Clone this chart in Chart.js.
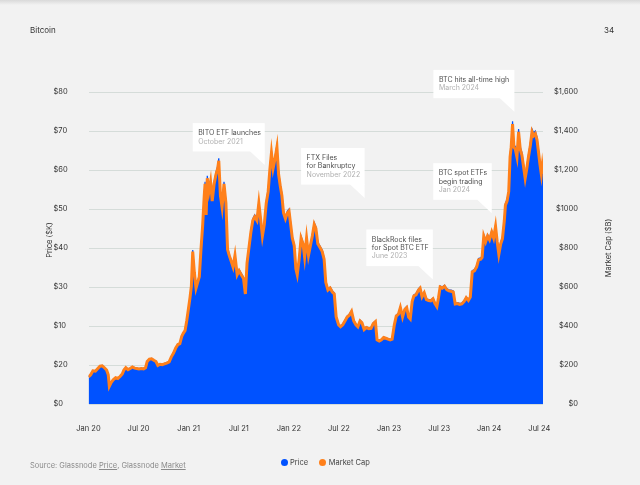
<!DOCTYPE html>
<html>
<head>
<meta charset="utf-8">
<script src="https://cdn.jsdelivr.net/npm/chart.js@4.4.1/dist/chart.umd.min.js"></script>
<style>
html,body{margin:0;padding:0;background:#f2f2f2;}
body{width:640px;height:485px;position:relative;overflow:hidden;font-family:Inter,"Noto Sans",sans-serif;}
#shadow{position:absolute;left:0;top:0;width:640px;height:5px;background:linear-gradient(#d9d9d9,rgba(242,242,242,0));}
canvas{position:absolute;left:0;top:0;}
.t{position:absolute;white-space:nowrap;line-height:10px;}
#legend{position:absolute;left:280.5px;top:457px;height:10px;display:flex;align-items:center;font-size:7.5px;color:#444;white-space:nowrap;}
#legend .dot{display:inline-block;width:7px;height:7px;border-radius:50%;margin-right:2.5px;}
#legend .item{display:flex;align-items:center;margin-right:11px;}
</style>
</head>
<body>
<div id="shadow"></div>
<canvas id="c" width="640" height="485"></canvas>
<div class="t" style="left:30px;top:25px;font-size:8px;color:#333">Bitcoin</div>
<div class="t" style="left:604px;top:25px;font-size:8px;color:#333">34</div>
<div class="t" style="left:30px;top:461px;font-size:7.5px;color:#8a8a8a">Source: Glassnode <u>Price</u>, Glassnode <u>Market</u></div>
<div id="legend"></div>
<script>
// ---------------- data ----------------
const dates2020 = ['2020-01-01','2020-01-09','2020-01-17','2020-01-26','2020-02-04','2020-02-12','2020-02-20','2020-02-28','2020-03-07','2020-03-13','2020-03-17','2020-03-24','2020-04-01','2020-04-09','2020-04-17','2020-04-25','2020-05-03','2020-05-09','2020-05-16','2020-05-24','2020-06-01','2020-06-09','2020-06-17','2020-06-25','2020-07-03','2020-07-12','2020-07-20','2020-07-27','2020-08-02','2020-08-10','2020-08-18','2020-08-26','2020-09-03','2020-09-10','2020-09-18','2020-09-26','2020-10-04','2020-10-12','2020-10-21','2020-10-29','2020-11-06','2020-11-14','2020-11-22','2020-11-29','2020-12-06','2020-12-12','2020-12-18','2020-12-24','2020-12-30'];
const price2020 = [7.0,7.6,8.6,8.5,9.2,9.8,9.9,9.4,8.8,7.6,4.6,5.6,6.3,6.8,6.6,7.1,7.8,8.8,9.4,8.9,9.2,9.6,9.3,9.2,9.1,9.2,9.1,9.4,11.0,11.6,11.7,11.3,11.0,10.0,10.3,10.2,10.4,10.6,10.9,12.2,13.2,14.5,15.4,15.6,17.5,18.4,19.0,21.5,24.5];
const mcap2020 = [139,150,170,168,182,194,196,186,174,150,91,111,125,135,131,141,154,174,186,176,182,190,184,182,180,182,180,186,218,230,232,224,218,198,204,202,206,210,216,242,261,287,305,309,347,364,376,426,485];

const dates2021 = ['2021-01-05','2021-01-10','2021-01-15','2021-01-21','2021-01-27','2021-02-02','2021-02-08','2021-02-14','2021-02-20','2021-02-26','2021-03-01','2021-03-05','2021-03-09','2021-03-15','2021-03-21','2021-03-27','2021-04-03','2021-04-10','2021-04-16','2021-04-20','2021-04-26','2021-05-02','2021-05-09','2021-05-16','2021-05-22','2021-05-28','2021-06-04','2021-06-11','2021-06-18','2021-06-26','2021-07-03','2021-07-11','2021-07-19','2021-07-26','2021-08-01','2021-08-08','2021-08-15','2021-08-22','2021-08-29','2021-09-06','2021-09-13','2021-09-20','2021-09-26','2021-10-03','2021-10-10','2021-10-17','2021-10-23','2021-10-29','2021-11-04','2021-11-11','2021-11-18','2021-11-24','2021-11-30','2021-12-06','2021-12-12','2021-12-19','2021-12-26'];
const price2021 = [27.5,30.5,39.5,34.0,30.0,31.5,33.0,40.0,46.0,54.0,57.0,49.0,58.5,55.0,57.5,52.5,57.0,59.5,61.0,63.0,54.0,51.0,57.0,52.0,40.0,38.5,37.0,35.5,38.5,33.5,34.5,33.5,32.5,28.5,36.5,40.5,44.5,47.5,48.5,47.5,52.0,47.5,43.5,46.5,52.0,55.0,60.5,65.0,61.0,63.5,66.5,59.5,56.5,54.0,49.5,48.0,49.5];
const mcap2021 = [545,604,782,673,594,624,653,792,911,1069,1129,970,1158,1089,1139,1040,1129,1178,1208,1247,1069,1010,1129,1030,792,762,733,703,762,663,683,663,644,564,723,802,881,941,960,941,1030,941,861,921,1030,1089,1198,1287,1208,1257,1317,1178,1119,1069,980,950,980];

const dates2022 = ['2022-01-01','2022-01-07','2022-01-13','2022-01-20','2022-01-26','2022-01-31','2022-02-07','2022-02-14','2022-02-21','2022-02-27','2022-03-06','2022-03-13','2022-03-20','2022-03-27','2022-04-03','2022-04-09','2022-04-16','2022-04-24','2022-05-02','2022-05-09','2022-05-15','2022-05-23','2022-05-31','2022-06-08','2022-06-15','2022-06-22','2022-07-01','2022-07-08','2022-07-16','2022-07-24','2022-08-01','2022-08-09','2022-08-17','2022-08-25','2022-09-02','2022-09-09','2022-09-17','2022-09-24','2022-10-02','2022-10-10','2022-10-19','2022-10-27','2022-11-04','2022-11-12','2022-11-18','2022-11-26','2022-12-04','2022-12-12','2022-12-20','2022-12-28'];
const price2022 = [50.0,46.5,43.0,41.0,35.0,33.5,37.5,43.0,41.5,38.0,43.0,38.5,41.0,43.5,46.5,45.5,41.5,40.5,39.5,37.5,31.5,29.5,30.0,29.0,28.5,22.5,20.5,20.0,20.5,21.5,22.5,23.0,24.0,21.5,20.5,20.0,21.5,21.0,19.3,19.8,19.5,19.6,20.8,21.3,16.6,16.3,16.6,17.2,17.0,16.8];
const mcap2022 = [990,921,851,812,693,663,743,851,822,752,851,762,812,861,921,901,822,802,782,743,624,584,594,574,564,446,406,396,406,426,446,455,475,426,406,396,426,416,382,392,386,388,412,422,329,323,329,341,337,333];

const dates2023 = ['2023-01-05','2023-01-12','2023-01-20','2023-01-27','2023-02-04','2023-02-11','2023-02-19','2023-02-27','2023-03-06','2023-03-13','2023-03-19','2023-03-26','2023-04-01','2023-04-09','2023-04-18','2023-04-24','2023-05-01','2023-05-09','2023-05-17','2023-05-25','2023-06-02','2023-06-10','2023-06-17','2023-06-24','2023-06-30','2023-07-06','2023-07-14','2023-07-22','2023-07-30','2023-08-07','2023-08-15','2023-08-23','2023-08-30','2023-09-07','2023-09-15','2023-09-23','2023-10-01','2023-10-09','2023-10-17','2023-10-24','2023-10-31','2023-11-08','2023-11-16','2023-11-23','2023-12-01','2023-12-06','2023-12-12','2023-12-19','2023-12-26'];
const price2023 = [16.6,16.8,20.5,22.8,23.3,25.0,22.5,24.5,25.0,22.5,22.0,26.5,28.0,28.3,29.5,30.0,27.8,28.8,27.0,26.8,26.7,27.2,26.0,25.2,27.5,30.3,30.0,30.5,29.6,29.3,29.2,29.0,25.9,26.0,25.8,25.9,26.5,27.5,26.8,27.7,34.2,34.5,35.5,37.3,37.5,38.0,43.5,42.0,43.5];
const mcap2023 = [329,333,406,451,461,495,446,485,495,446,436,525,554,560,584,594,550,570,535,531,529,539,515,499,545,600,594,604,586,580,578,574,513,515,511,513,525,545,531,548,677,683,703,739,743,752,861,832,861];

const dates2024 = ['2024-01-02','2024-01-10','2024-01-17','2024-01-24','2024-01-30','2024-02-05','2024-02-12','2024-02-18','2024-02-25','2024-02-29','2024-03-06','2024-03-12','2024-03-17','2024-03-21','2024-03-26','2024-03-31','2024-04-05','2024-04-11','2024-04-17','2024-04-23','2024-04-29','2024-05-05','2024-05-11','2024-05-17','2024-05-23','2024-05-30','2024-06-05','2024-06-11','2024-06-17','2024-06-23','2024-06-29','2024-07-04','2024-07-09','2024-07-12','2024-07-15'];
const price2024 = [42.5,44.5,43.0,46.0,42.0,38.8,41.5,42.8,47.5,51.5,52.5,55.0,64.0,66.5,72.5,66.5,66.0,64.0,70.5,66.0,64.5,61.5,58.5,61.0,64.0,67.0,70.5,69.5,70.0,68.5,65.0,62.0,59.5,61.5,59.5];
const mcap2024 = [842,881,851,911,832,768,822,847,941,1020,1040,1089,1267,1317,1436,1317,1307,1267,1396,1307,1277,1218,1158,1208,1267,1327,1396,1376,1386,1356,1287,1228,1178,1218,1178];

const xTickLabels = ['Jan 20','Jul 20','Jan 21','Jul 21','Jan 22','Jul 22','Jan 23','Jul 23','Jan 24','Jul 24'];
const priceTickLabels = ['$0','$20','$10','$30','$40','$50','$60','$70','$80'];
const mcapTickLabels = ['$0','$200','$400','$600','$800','$1000','$1,200','$1,400','$1,600'];

const notes = [
  {lines:['BITO ETF launches','October 2021'], at:[1.759, 61.3], w:72},
  {lines:['FTX Files','for Bankruptcy','November 2022'], at:[2.756, 52.8], w:63.5},
  {lines:['BlackRock files','for Spot BTC ETF','June 2023'], at:[3.437, 31.9], w:66.5},
  {lines:['BTC spot ETFs','begin trading','Jan 2024'], at:[4.025, 48.9], w:58.5},
  {lines:['BTC hits all-time high','March 2024'], at:[4.251, 74.95], w:81}
];

// ---------------- build ----------------
const dates = [].concat(dates2020, dates2021, dates2022, dates2023, dates2024);
const price = [].concat(price2020, price2021, price2022, price2023, price2024);
const marketCap = [].concat(mcap2020, mcap2021, mcap2022, mcap2023, mcap2024);
const T0 = Date.UTC(2020,0,1), YEAR = 365.25*86400000;
const xs = dates.map(d => { const [y,m,dd] = d.split('-').map(Number); return (Date.UTC(y,m-1,dd) - T0) / YEAR; });

const BLUE = '#0052ff', ORANGE = '#ff801a';
Chart.defaults.font.family = 'Inter, "Noto Sans", sans-serif';

const overlay = {
  id: 'overlay',
  afterDatasetsDraw(chart) {
    const {ctx, scales} = chart;
    const x = scales.x, y = scales.y;
    ctx.save();
    ctx.font = '7px Inter, "Noto Sans", sans-serif';
    ctx.textBaseline = 'middle';
    ctx.textAlign = 'left';
    notes.forEach(n => {
      const tx = x.getPixelForValue(n.at[0]);
      const ty = y.getPixelForValue(n.at[1]);
      const h = 20 + (n.lines.length - 1) * 8.3;
      const bottom = ty - 13.5, top = bottom - h, left = tx - n.w;
      ctx.fillStyle = '#ffffff';
      ctx.fillRect(left, top, n.w, h);
      ctx.beginPath();
      ctx.moveTo(tx - 15, bottom - 0.5);
      ctx.lineTo(tx, bottom - 0.5);
      ctx.lineTo(tx, ty);
      ctx.closePath();
      ctx.fill();
      n.lines.forEach((s, i) => {
        ctx.fillStyle = i === n.lines.length - 1 ? '#b0b0b0' : '#4f4f4f';
        ctx.fillText(s, left + 5.5, top + 10 + i * 8.3);
      });
    });
    ctx.restore();
  },
  afterDraw(chart) {
    const ctx = chart.ctx;
    ctx.save();
    ctx.font = '7.5px Inter, "Noto Sans", sans-serif';
    ctx.fillStyle = '#333';
    ctx.textAlign = 'center';
    ctx.textBaseline = 'middle';
    [['Price ($K)', 50, 240], ['Market Cap ($B)', 609, 248]].forEach(([s, px, py]) => {
      ctx.save();
      ctx.translate(px, py);
      ctx.rotate(-Math.PI / 2);
      ctx.fillText(s, 0, 0);
      ctx.restore();
    });
    ctx.restore();
  }
};

const tickFont = {family: 'Inter, "Noto Sans", sans-serif', size: 7.5};

const chart = new Chart(document.getElementById('c'), {
  type: 'line',
  data: {
    datasets: [
      {label: 'Price', data: xs.map((v, i) => ({x: v, y: price[i]})), yAxisID: 'y',
       borderColor: BLUE, backgroundColor: BLUE, borderWidth: 1.2, pointRadius: 0, fill: 'origin', tension: 0, order: 2},
      {label: 'Market Cap', data: xs.map((v, i) => ({x: v, y: marketCap[i]})), yAxisID: 'y2',
       borderColor: ORANGE, backgroundColor: ORANGE, borderWidth: 3, pointRadius: 0, fill: false, tension: 0, order: 1}
    ]
  },
  options: {
    responsive: false,
    animation: false,
    devicePixelRatio: 1,
    layout: {padding: {left: 53.5, right: 62, top: 92, bottom: 0}},
    plugins: {legend: {display: false}, tooltip: {enabled: false}},
    scales: {
      x: {
        type: 'linear', min: 0, max: xs[xs.length - 1],
        afterBuildTicks: s => { s.ticks = xTickLabels.map((_, i) => ({value: i * 0.5})); },
        afterFit: s => { s.height = 81; },
        ticks: {callback: (v, i) => xTickLabels[i], autoSkip: false, maxRotation: 0, padding: 12, font: tickFont, color: '#333'},
        grid: {display: false}, border: {display: false}
      },
      y: {
        position: 'left', min: 0, max: 80,
        afterBuildTicks: s => { s.ticks = priceTickLabels.map((_, i) => ({value: i * 10})); },
        afterFit: s => { s.width = 35; },
        ticks: {callback: (v, i) => priceTickLabels[i], crossAlign: 'far', font: tickFont, color: '#333'},
        grid: {color: '#d5dcd9', lineWidth: 1, drawTicks: false}, border: {display: false}
      },
      y2: {
        position: 'right', min: 0, max: 1600,
        afterBuildTicks: s => { s.ticks = mcapTickLabels.map((_, i) => ({value: i * 200})); },
        afterFit: s => { s.width = 35; },
        ticks: {callback: (v, i) => mcapTickLabels[i], crossAlign: 'far', font: tickFont, color: '#333'},
        grid: {display: false}, border: {display: false}
      }
    }
  },
  plugins: [overlay]
});

// legend from the chart's own datasets
const leg = document.getElementById('legend');
chart.data.datasets.forEach(ds => {
  const it = document.createElement('span'); it.className = 'item';
  const dot = document.createElement('span'); dot.className = 'dot'; dot.style.background = ds.borderColor;
  it.appendChild(dot); it.appendChild(document.createTextNode(ds.label));
  leg.appendChild(it);
});
</script>
</body>
</html>
